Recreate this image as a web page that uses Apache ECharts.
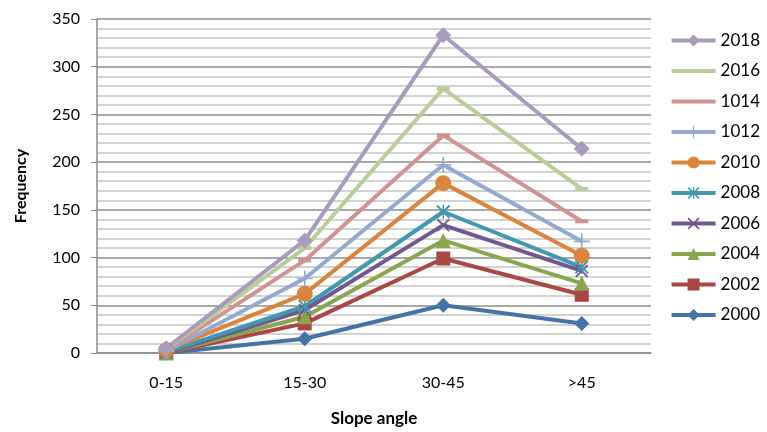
<!DOCTYPE html>
<html>
<head>
<meta charset="utf-8">
<script src="https://cdn.jsdelivr.net/npm/echarts@6/dist/echarts.min.js"></script>
<style>
  html, body { margin: 0; padding: 0; background: #fff; }
  #chart { width: 767px; height: 432px; }
</style>
</head>
<body>
<div id="chart"></div>
<script>
// categories on the x axis
var slopeClasses = ['0-15', '15-30', '30-45', '>45'];

// one array per year (series are drawn 2000 first, 2018 last)
var v2000 = [0, 15, 50, 31];
var v2002 = [0, 31, 99, 61];
var v2004 = [0, 38, 118, 73];
var v2006 = [0, 45, 134, 86];
var v2008 = [1, 49, 148, 90];
var v2010 = [3, 62, 178, 102];
var v1012 = [2, 78, 197, 117];
var v1014 = [3, 97, 228, 138];
var v2016 = [4, 110, 277, 172];
var v2018 = [5, 118, 333, 214];

var yTicks = { min: 0, max: 350, step: 50 };

var crossX = 'path://M0,2L2,0L10,8L18,0L20,2L12,10L20,18L18,20L10,12L2,20L0,18L8,10Z';
var star = 'path://M0,2L2,0L10,8L18,0L20,2L12,10L20,18L18,20L10,12L2,20L0,18L8,10ZM9,0L11,0L11,20L9,20Z';
var plus = 'path://M9,0L11,0L11,9L20,9L20,11L11,11L11,20L9,20L9,11L0,11L0,9L9,9Z';

var seriesDefs = [
    { name: '2000', data: v2000, color: '#4572A7', symbol: 'diamond', size: 15 },
    { name: '2002', data: v2002, color: '#AA4643', symbol: 'rect', size: 14 },
    { name: '2004', data: v2004, color: '#89A54E', symbol: 'triangle', size: 15 },
    { name: '2006', data: v2006, color: '#71588F', symbol: crossX, size: 13 },
    { name: '2008', data: v2008, color: '#4198AF', symbol: star, size: 14 },
    { name: '2010', data: v2010, color: '#DB843D', symbol: 'circle', size: 16 },
    { name: '1012', data: v1012, color: '#93A9CF', symbol: plus, size: 16 },
    { name: '1014', data: v1014, color: '#D19392', symbol: 'rect', size: [13, 4], plainLegend: true },
    { name: '2016', data: v2016, color: '#B9CD96', symbol: 'rect', size: [13, 4], plainLegend: true },
    { name: '2018', data: v2018, color: '#A99BBD', symbol: 'diamond', size: 16 }
];

var chart = echarts.init(document.getElementById('chart'));

chart.setOption({
    animation: false,
    textStyle: { fontFamily: 'Lato', color: '#000' },
    grid: { left: 97, right: 116, top: 19, bottom: 79 },
    legend: {
        orient: 'vertical',
        right: 2,
        top: 27,
        itemGap: 13.5,
        itemWidth: 44,
        itemHeight: 15,
        lineStyle: { width: 4 },
        data: seriesDefs.map(function (s) {
            return s.plainLegend ? { name: s.name, itemStyle: { opacity: 0 } } : s.name;
        }).reverse(),
        textStyle: { fontSize: 17, fontFamily: 'Lato', color: '#000' }
    },
    xAxis: {
        type: 'category',
        data: slopeClasses,
        boundaryGap: true,
        name: 'Slope angle',
        nameLocation: 'middle',
        nameGap: 57,
        nameTextStyle: { fontSize: 17, fontWeight: 'bold', color: '#000' },
        axisLine: { lineStyle: { color: '#8c8c8c', width: 1.5 } },
        axisTick: { show: false },
        axisLabel: { fontSize: 16, color: '#000', margin: 22 }
    },
    yAxis: {
        type: 'value',
        min: yTicks.min,
        max: yTicks.max,
        interval: yTicks.step,
        name: 'Frequency',
        nameLocation: 'middle',
        nameGap: 68,
        nameTextStyle: { fontSize: 16, fontWeight: 'bold', color: '#000' },
        axisLine: { show: true, lineStyle: { color: '#8c8c8c', width: 1.5 } },
        axisTick: { show: true, length: 6, lineStyle: { color: '#8c8c8c' } },
        axisLabel: { fontSize: 16, color: '#000', margin: 17 },
        splitLine: { lineStyle: { color: '#8c8c8c', width: 1.5 } },
        minorTick: { show: false, splitNumber: 5 },
        minorSplitLine: { show: true, lineStyle: { color: '#c4c4c4', width: 1.5 } }
    },
    series: seriesDefs.map(function (s) {
        return {
            name: s.name,
            type: 'line',
            data: s.data,
            symbol: s.symbol,
            symbolSize: s.size,
            showAllSymbol: true,
            lineStyle: { color: s.color, width: 4 },
            itemStyle: { color: s.color },
            emphasis: { disabled: true }
        };
    })
});
</script>
</body>
</html>
